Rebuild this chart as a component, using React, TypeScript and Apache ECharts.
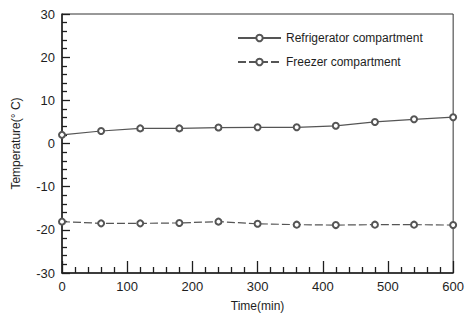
import React, { useEffect, useRef } from "react";
import * as echarts from "echarts";

const times = [0, 60, 120, 180, 240, 300, 360, 420, 480, 540, 600];
const refrigerator = [2.0, 2.9, 3.5, 3.5, 3.7, 3.75, 3.75, 4.1, 5.0, 5.6, 6.1];
const freezer = [-18.1, -18.5, -18.5, -18.4, -18.1, -18.6, -18.8, -18.9, -18.8, -18.8, -18.9];
const seriesNames = ["Refrigerator compartment", "Freezer compartment"];

export default function App() {
  const ref = useRef<HTMLDivElement>(null);
  useEffect(() => {
    if (!ref.current) return;
    const chart = echarts.init(ref.current, null, { renderer: "svg" });
    const font = "Liberation Sans, Arial, sans-serif";
    const ink = "#1e1e1e";
    const mk = (vals: number[]) => times.map((t, i) => [t, vals[i]]);
    chart.setOption({
      animation: false,
      backgroundColor: "#ffffff",
      grid: { left: 62, right: 11, top: 14, bottom: 47, show: true, borderColor: "#333", borderWidth: 1 },
      legend: {
        orient: "vertical",
        left: 232,
        top: 27,
        itemWidth: 43,
        itemHeight: 8,
        itemGap: 12,
        textStyle: { fontFamily: font, fontSize: 12, color: ink },
        data: seriesNames,
      },
      xAxis: {
        type: "value",
        min: 0,
        max: 600,
        interval: 100,
        name: "Time(min)",
        nameLocation: "middle",
        nameGap: 27,
        nameTextStyle: { fontFamily: font, fontSize: 12, color: ink },
        axisLine: { onZero: false, lineStyle: { color: ink, width: 1.5 } },
        axisTick: { show: true, inside: true, length: 12, lineStyle: { color: ink, width: 1.3 } },
        minorTick: { show: true, splitNumber: 5, length: 6, lineStyle: { color: ink, width: 1.3 } },
        splitLine: { show: false },
        axisLabel: { fontFamily: font, fontSize: 13, color: ink, margin: 7 },
      },
      yAxis: {
        type: "value",
        min: -30,
        max: 30,
        interval: 10,
        name: "Temperature(° C)",
        nameLocation: "middle",
        nameGap: 40,
        nameTextStyle: { fontFamily: font, fontSize: 12, color: ink },
        axisLine: { onZero: false, lineStyle: { color: ink, width: 1.5 } },
        axisTick: { show: true, inside: true, length: 8, lineStyle: { color: ink, width: 1.3 } },
        minorTick: { show: true, splitNumber: 5, length: 5, lineStyle: { color: ink, width: 1.3 } },
        splitLine: { show: false },
        axisLabel: { fontFamily: font, fontSize: 13, color: ink, margin: 7 },
      },
      series: [
        {
          name: seriesNames[0],
          type: "line",
          data: mk(refrigerator),
          symbol: "emptyCircle",
          symbolSize: 6,
          lineStyle: { color: "#555", width: 1.2, type: "solid" },
          itemStyle: { color: "#555", borderColor: "#555", borderWidth: 1 },
        },
        {
          name: seriesNames[1],
          type: "line",
          data: mk(freezer),
          symbol: "emptyCircle",
          symbolSize: 6,
          lineStyle: { color: "#555", width: 1.2, type: [8, 3] },
          itemStyle: { color: "#555", borderColor: "#555", borderWidth: 1 },
        },
      ],
    });
    return () => chart.dispose();
  }, []);
  return <div ref={ref} style={{ width: 467, height: 320, position: "absolute", left: 0, top: 0 }} />;
}
